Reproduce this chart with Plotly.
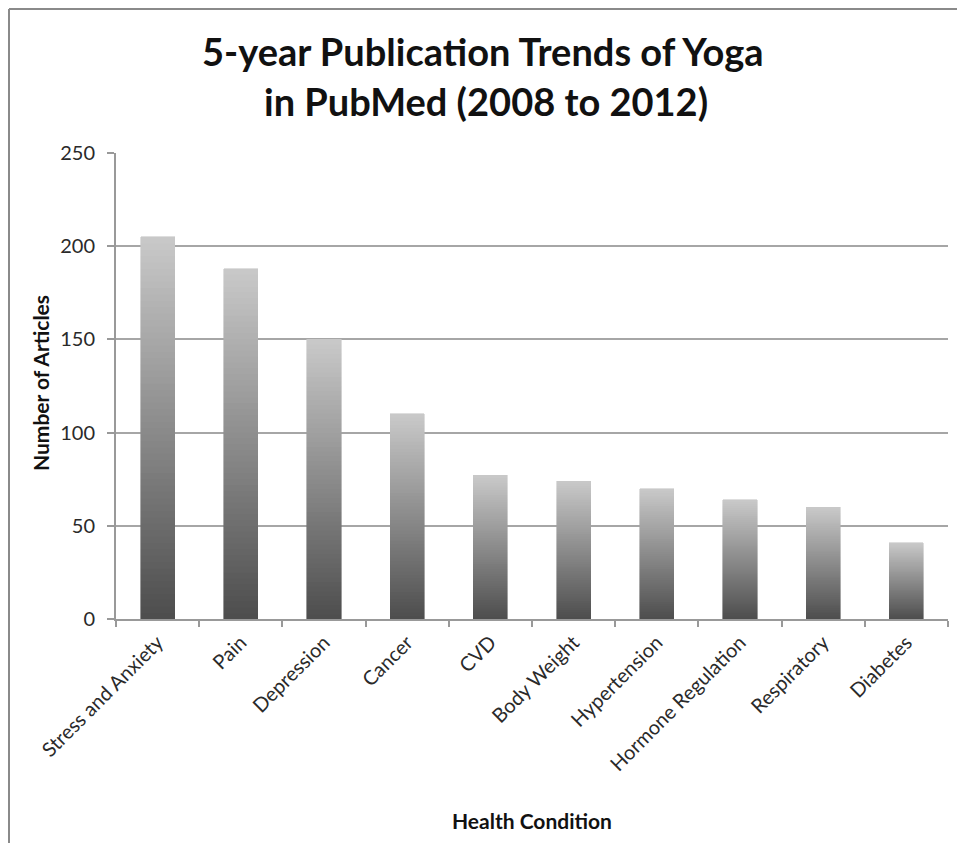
import plotly.graph_objects as go

categories = ["Stress and Anxiety", "Pain", "Depression", "Cancer", "CVD",
              "Body Weight", "Hypertension", "Hormone Regulation", "Respiratory", "Diabetes"]
articles = [205, 188, 150, 110, 77, 74, 70, 64, 60, 41]
y_ticks = [0, 50, 100, 150, 200, 250]

title_lines = ["5-year Publication Trends of Yoga", "in PubMed (2008 to 2012)"]
x_title = "Health Condition"
y_title = "Number of Articles"

# vertical gradient per bar, built as stacked slices of each bar's own value
N = 60
bottom = (78, 78, 78)
top = (200, 200, 200)

fig = go.Figure()
for i in range(N):
    t = i / (N - 1)
    c = tuple(int(round(bottom[k] + (top[k] - bottom[k]) * t)) for k in range(3))
    col = "rgb(%d,%d,%d)" % c
    fig.add_trace(go.Bar(
        x=categories,
        y=[v / N for v in articles],
        marker=dict(color=col, line=dict(width=0.6, color=col)),
        showlegend=False,
        hoverinfo="skip",
    ))

# page is offset by the 8px body margin, so the figure is sized to fill the rest
OFF = 8
W, H = 965 - OFF, 843 - OFF
ml, mr, mt, mb = 116 - OFF, 17, 153 - OFF, 224
PW, PH = W - ml - mr, H - mt - mb


def px(xp):
    return (xp - OFF - ml) / PW


def py(yp):
    return 1 + (mt - (yp - OFF)) / PH


fig.update_layout(
    width=W, height=H,
    barmode="stack",
    bargap=0.59,
    plot_bgcolor="white",
    paper_bgcolor="white",
    margin=dict(l=ml, r=mr, t=mt, b=mb, pad=0),
    font=dict(family="Lato", color="#222222"),
    xaxis=dict(
        showline=True, linecolor="#999999", linewidth=2,
        ticks="outside", ticklen=6, tickcolor="#999999", tickwidth=2,
        tickson="boundaries",
        tickangle=-45,
        tickfont=dict(size=20, color="#2a2a2a", family="Lato"),
        ticklabelstandoff=2,
        showgrid=False,
    ),
    yaxis=dict(
        range=[0, 250],
        tickvals=y_ticks,
        showline=True, linecolor="#999999", linewidth=2,
        ticks="outside", ticklen=7, tickcolor="#999999", tickwidth=2,
        showgrid=True, gridcolor="#a6a6a6", gridwidth=2,
        zeroline=False,
        tickfont=dict(size=20, color="#2a2a2a", family="Lato"),
        ticklabelstandoff=8,
    ),
    annotations=[
        dict(text="<b>" + title_lines[0] + "</b>", xref="paper", yref="paper",
             x=px(483), y=py(51), xanchor="center", yanchor="middle", showarrow=False,
             font=dict(size=38, family="Lato", color="#111111")),
        dict(text="<b>" + title_lines[1] + "</b>", xref="paper", yref="paper",
             x=px(486), y=py(101), xanchor="center", yanchor="middle", showarrow=False,
             font=dict(size=38, family="Lato", color="#111111")),
        dict(text="<b>" + x_title + "</b>", xref="paper", yref="paper",
             x=px(532), y=py(820), xanchor="center", yanchor="middle", showarrow=False,
             font=dict(size=21, family="Lato", color="#111111")),
        dict(text="<b>" + y_title + "</b>", xref="paper", yref="paper",
             x=px(40), y=py(383), xanchor="center", yanchor="middle", showarrow=False,
             textangle=-90,
             font=dict(size=21, family="Lato", color="#111111")),
    ],
    shapes=[
        dict(type="line", xref="paper", yref="paper",
             x0=px(9), x1=px(9), y0=py(9), y1=py(843),
             line=dict(color="#8a8a8a", width=2)),
        dict(type="line", xref="paper", yref="paper",
             x0=px(9), x1=px(965), y0=py(9), y1=py(9),
             line=dict(color="#8a8a8a", width=2)),
    ],
)

fig.write_html("out.html")
